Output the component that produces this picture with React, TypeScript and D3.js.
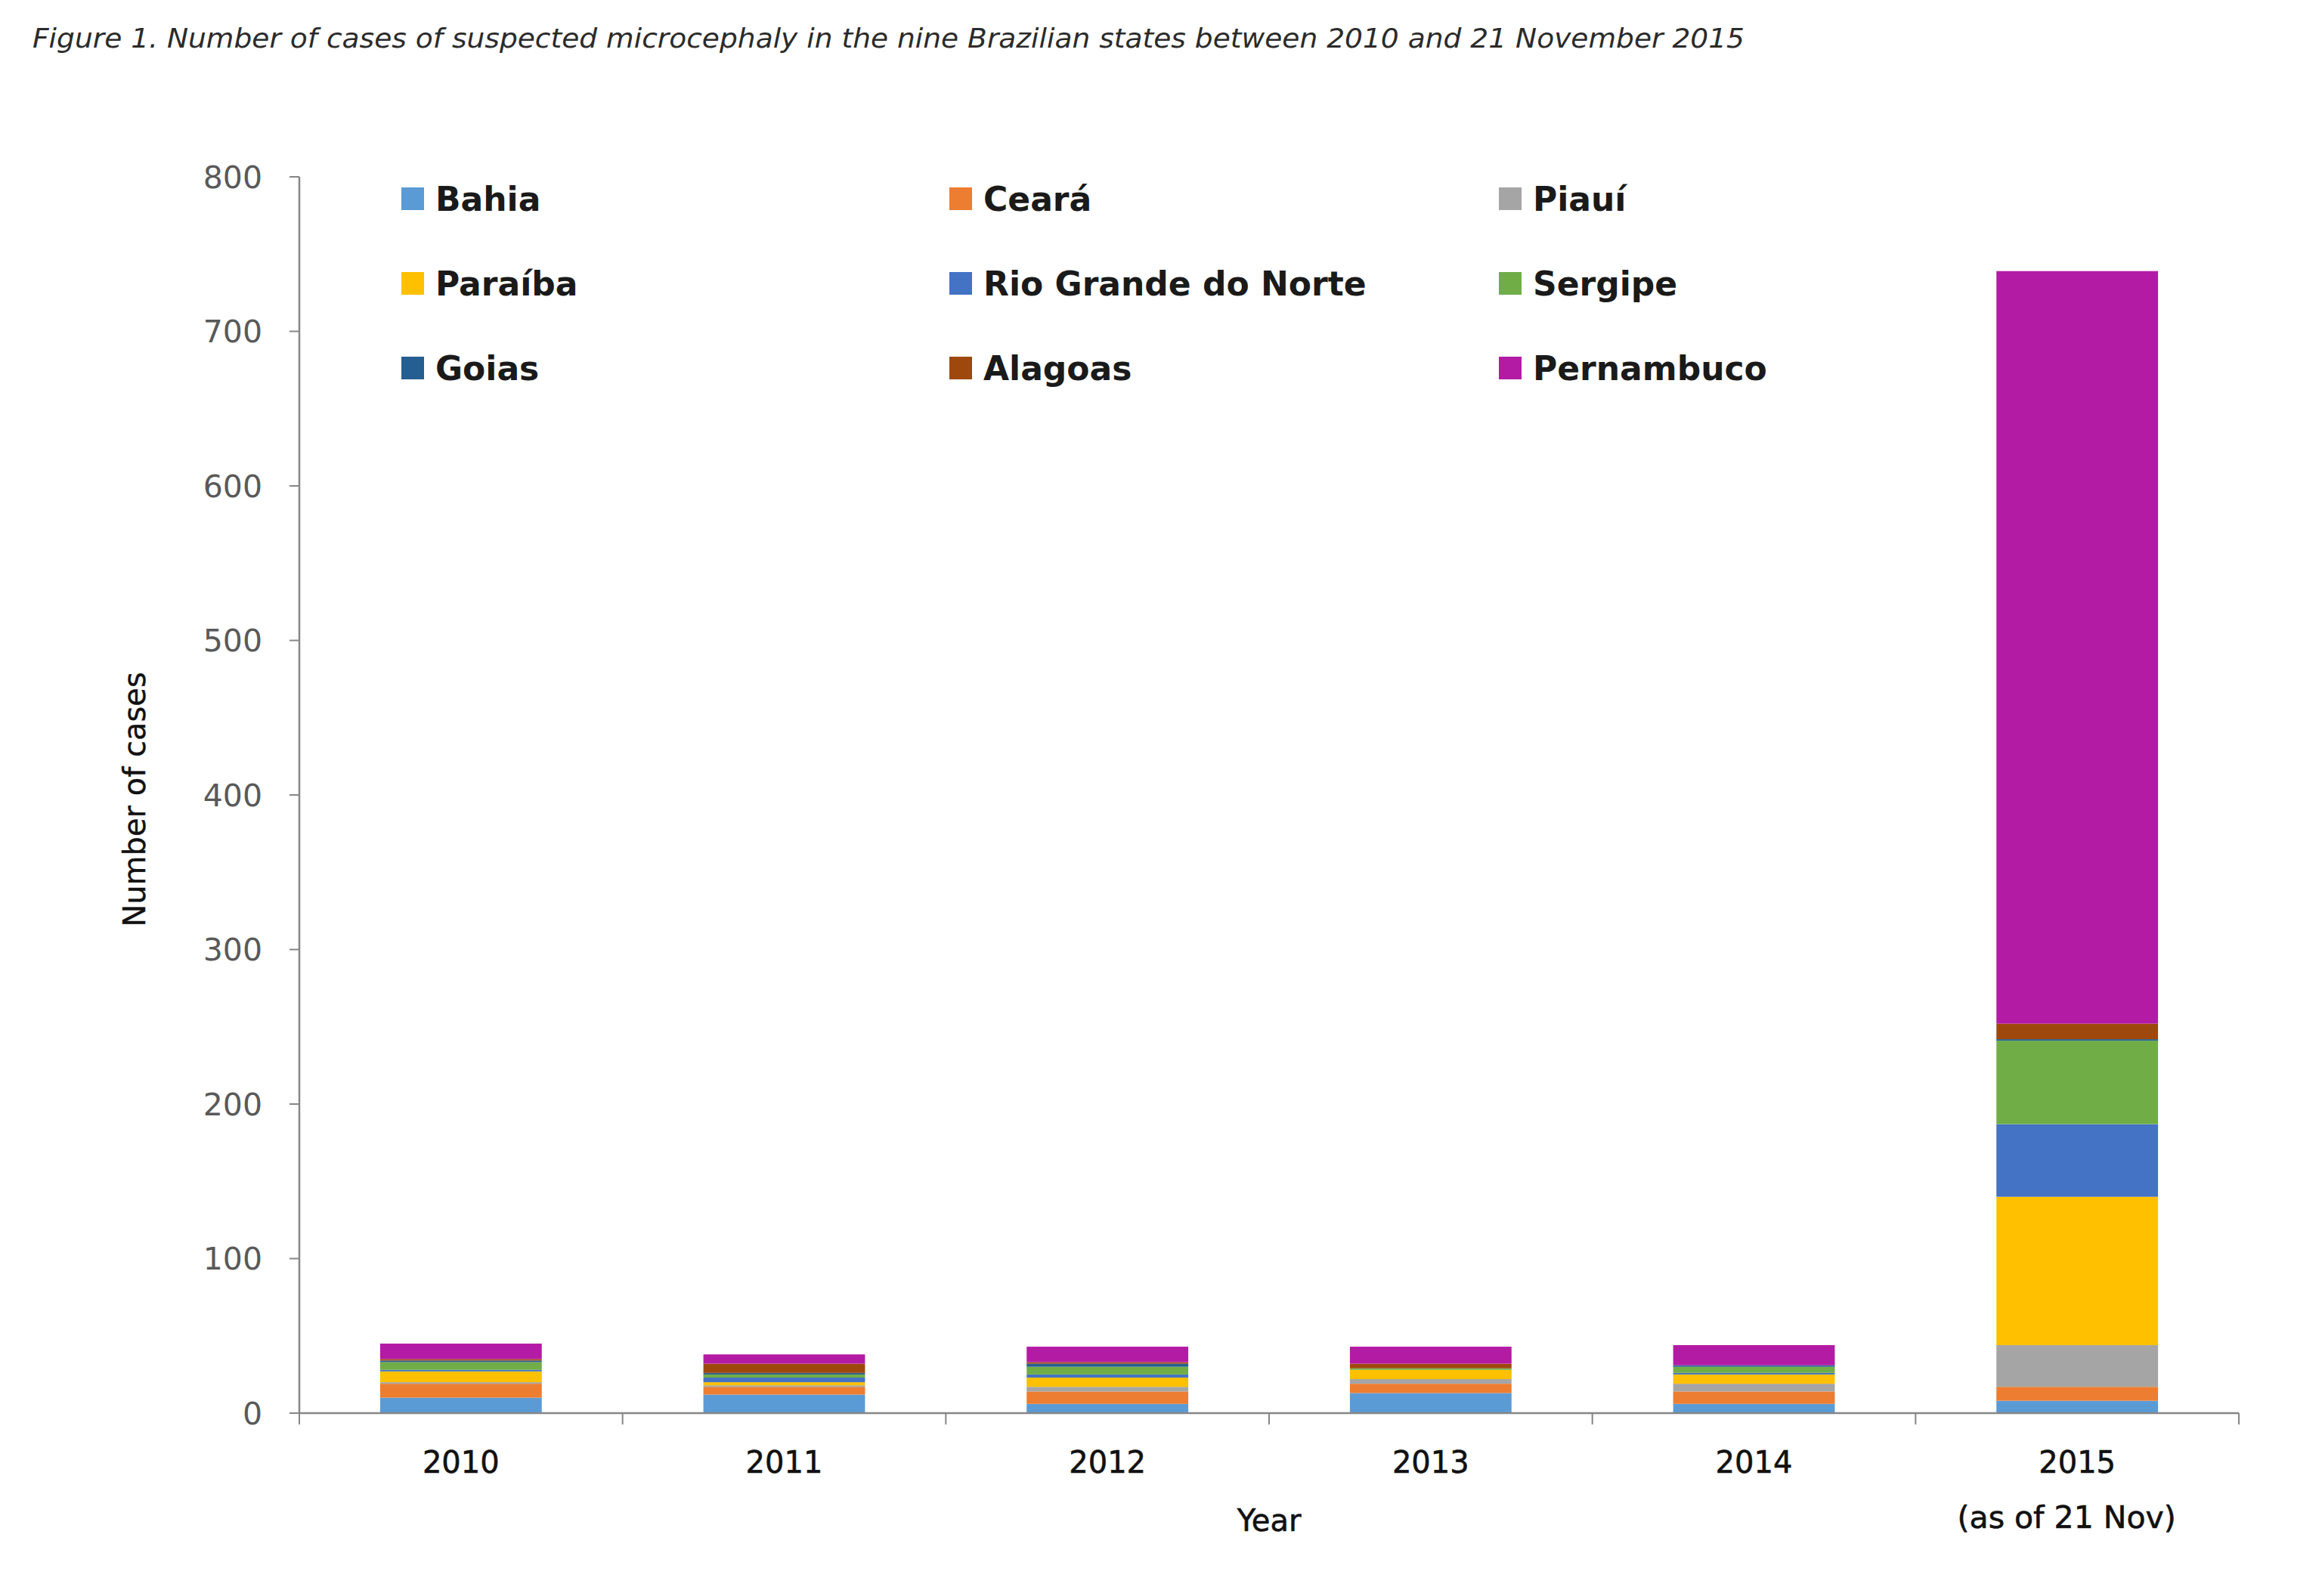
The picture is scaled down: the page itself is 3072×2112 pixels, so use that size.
import React from "react";
import * as d3 from "d3";

const years = ["2010", "2011", "2012", "2013", "2014", "2015"];
const yearSub = ["", "", "", "", "", "(as of 21 Nov)"];
const states = ["Bahia", "Ceará", "Piauí", "Paraíba", "Rio Grande do Norte", "Sergipe", "Goias", "Alagoas", "Pernambuco"];
const colors = ["#5B9BD5", "#ED7D31", "#A5A5A5", "#FFC000", "#4472C4", "#70AD47", "#255E91", "#9E480E", "#B41BA4"];

const bahia = [10, 12, 6, 13, 6, 8];
const ceara = [9, 5, 8, 6, 8, 9];
const piaui = [1, 1, 3, 3, 5, 27];
const paraiba = [7, 2, 6, 6, 6, 96];
const rioGrandeDoNorte = [1, 3, 2, 0, 1, 47];
const sergipe = [5, 2, 5, 1, 4, 54];
const goias = [1, 1, 2, 0, 1, 1];
const alagoas = [1, 6, 1, 3, 0, 10];
const pernambuco = [10, 6, 10, 11, 13, 487];

const seriesValues = [bahia, ceara, piaui, paraiba, rioGrandeDoNorte, sergipe, goias, alagoas, pernambuco];
const yTicks = [0, 100, 200, 300, 400, 500, 600, 700, 800];

const W = 3072;
const H = 2112;
const FONT = "'DejaVu Sans', Verdana, sans-serif";

export default function App() {
  const x = d3.scaleBand<string>().domain(years).range([396, 2962]).paddingInner(0.5).paddingOuter(0.25);
  const y = d3.scaleLinear().domain([0, 800]).range([1870, 234]);

  const rows = years.map((yr, i) => {
    const r: Record<string, any> = { year: yr };
    states.forEach((s, j) => (r[s] = seriesValues[j][i]));
    return r;
  });
  const stacked = d3.stack<any>().keys(states)(rows);

  const step = x.step();
  const boundaries = d3.range(years.length + 1).map((i) => 396 + i * step);

  const legendCols = [531, 1256, 1983];
  const legendRows = [263, 375, 487];

  return (
    <svg width={W} height={H} style={{ display: "block", background: "#fff", position: "absolute", left: 0, top: 0 }}>
      <rect x={0} y={0} width={W} height={H} fill="#fff" />
      <text x={43} y={63} fontFamily={FONT} fontStyle="italic" fontSize={36} fill="#2b2b2b" textLength={2265} lengthAdjust="spacingAndGlyphs">
        Figure 1. Number of cases of suspected microcephaly in the nine Brazilian states between 2010 and 21 November 2015
      </text>

      {/* bars */}
      {stacked.map((layer, j) => (
        <g key={states[j]} fill={colors[j]}>
          {layer.map((d, i) => (
            <rect key={i} x={x(years[i])} width={x.bandwidth()} y={y(d[1])} height={Math.max(0, y(d[0]) - y(d[1]))} />
          ))}
        </g>
      ))}

      {/* y axis */}
      <line x1={396} x2={396} y1={y(800)} y2={y(0)} stroke="#868686" strokeWidth={2.5} />
      {yTicks.map((t) => (
        <g key={t}>
          <line x1={383} x2={396} y1={y(t)} y2={y(t)} stroke="#868686" strokeWidth={2} />
          <text x={347} y={y(t)} dy="0.36em" textAnchor="end" fontFamily={FONT} fontSize={41} fill="#595959">
            {t}
          </text>
        </g>
      ))}

      {/* x axis */}
      <line x1={396} x2={2962} y1={y(0)} y2={y(0)} stroke="#868686" strokeWidth={2.5} />
      {boundaries.map((bx, i) => (
        <line key={i} x1={bx} x2={bx} y1={y(0)} y2={y(0) + 15} stroke="#868686" strokeWidth={2} />
      ))}
      {years.map((yr, i) => (
        <g key={yr}>
          <text x={(x(yr) as number) + x.bandwidth() / 2} y={1949} textAnchor="middle" fontFamily={FONT} fontSize={40} fill="#111" stroke="#111" strokeWidth={0.6}>
            {yr}
          </text>
          {yearSub[i] && (
            <text x={(x(yr) as number) + x.bandwidth() / 2 - 14} y={2022} textAnchor="middle" fontFamily={FONT} fontSize={41} fill="#111" stroke="#111" strokeWidth={0.6}>
              {yearSub[i]}
            </text>
          )}
        </g>
      ))}
      <text x={1679} y={2026} textAnchor="middle" fontFamily={FONT} fontSize={40} fill="#111" stroke="#111" strokeWidth={0.6}>
        Year
      </text>

      <text transform={`translate(192,1058) rotate(-90)`} textAnchor="middle" fontFamily={FONT} fontSize={40} fill="#111" stroke="#111" strokeWidth={0.4}>
        Number of cases
      </text>

      {/* legend */}
      {states.map((s, j) => {
        const cx = legendCols[j % 3];
        const cy = legendRows[Math.floor(j / 3)];
        return (
          <g key={s}>
            <rect x={cx} y={cy - 15} width={30} height={30} fill={colors[j]} />
            <text x={cx + 45} y={cy + 16} fontFamily={FONT} fontWeight="bold" fontSize={44} fill="#1a1a1a">
              {s}
            </text>
          </g>
        );
      })}
    </svg>
  );
}
